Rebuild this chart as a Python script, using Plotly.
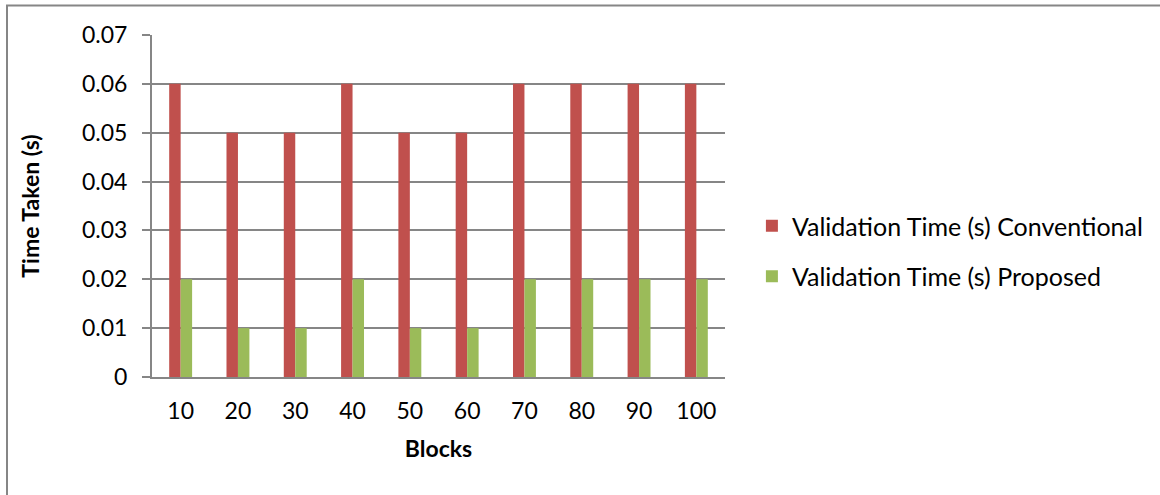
import plotly.graph_objects as go

blocks = ["10", "20", "30", "40", "50", "60", "70", "80", "90", "100"]
conventional = [0.06, 0.05, 0.05, 0.06, 0.05, 0.05, 0.06, 0.06, 0.06, 0.06]
proposed = [0.02, 0.01, 0.01, 0.02, 0.01, 0.01, 0.02, 0.02, 0.02, 0.02]
y_ticks = [0, 0.01, 0.02, 0.03, 0.04, 0.05, 0.06, 0.07]
y_tick_text = ["0", "0.01", "0.02", "0.03", "0.04", "0.05", "0.06", "0.07"]

FONT = "Lato, Carlito, Calibri, sans-serif"
GRID = "#868686"
FS = 23

W, H = 1160, 495
L, R, T, B = 152, 433, 35, 118
pw, ph = W - L - R, H - T - B

fig = go.Figure()
fig.add_trace(go.Bar(x=blocks, y=conventional, name="Validation Time (s) Conventional",
                     legendgroup="conv",
                     marker=dict(color="#C0504D", line=dict(width=0))))
fig.add_trace(go.Bar(x=blocks, y=proposed, name="Validation Time (s) Proposed",
                     legendgroup="prop",
                     marker=dict(color="#9BBB59", line=dict(width=0))))

# outer chart frame (runs off the right and bottom edges)
fig.add_shape(type="rect", xref="paper", yref="paper",
              x0=(6.5 - L) / pw, x1=(W + 20 - L) / pw,
              y0=(H - B - (H + 20)) / ph, y1=(H - B - 5.5) / ph,
              line=dict(color=GRID, width=2), fillcolor="rgba(0,0,0,0)", layer="below")

fig.update_layout(
    width=W, height=H,
    margin=dict(l=L, r=R, t=T, b=B),
    paper_bgcolor="white", plot_bgcolor="white",
    barmode="group", bargap=0.6, bargroupgap=0,
    font=dict(family=FONT, size=FS, color="black"),
    showlegend=True,
    legend=dict(x=(754 - L) / pw, xanchor="left", y=(H - B - 251) / ph, yanchor="middle",
                font=dict(family=FONT, size=FS + 2, color="black"),
                itemsizing="constant", tracegroupgap=15, bgcolor="rgba(0,0,0,0)"),
    xaxis=dict(
        showline=True, linecolor=GRID, linewidth=2,
        ticks="", showgrid=False, ticklabelstandoff=12,
        tickfont=dict(family=FONT, size=FS, color="black"),
        title=dict(text="<b>Blocks</b>", font=dict(family=FONT, size=FS, color="black"), standoff=18),
    ),
    yaxis=dict(
        range=[0, 0.07], tickvals=y_ticks, ticktext=y_tick_text,
        showline=True, linecolor=GRID, linewidth=2,
        ticks="outside", ticklen=8, tickcolor=GRID, tickwidth=2,
        showgrid=True, gridcolor=GRID, gridwidth=1.5, zeroline=False,
        ticklabelstandoff=10,
        tickfont=dict(family=FONT, size=FS, color="black"),
        title=dict(text="<b>Time Taken (s)</b>", font=dict(family=FONT, size=FS, color="black"), standoff=36),
    ),
)

fig.write_html("out.html")
